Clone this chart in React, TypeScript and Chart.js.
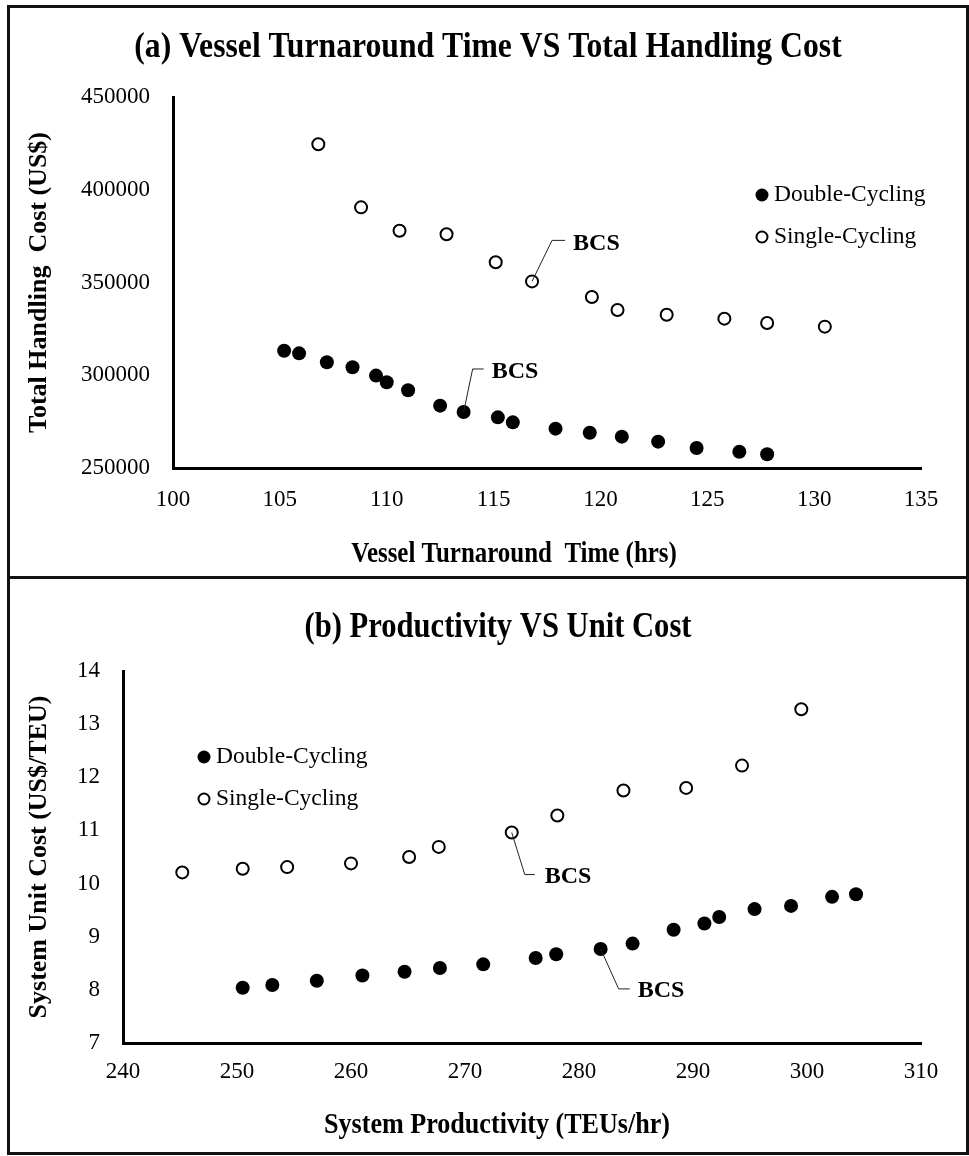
import React, { useEffect, useRef } from "react";
import { Chart, registerables } from "chart.js";

Chart.register(...registerables);

const SERIF = "'Liberation Serif', 'Times New Roman', Times, serif";

// ---------- Panel (a) data ----------
const aDoubleX = [105.2, 105.9, 107.2, 108.4, 109.5, 110.0, 111.0, 112.5, 113.6, 115.2, 115.9, 117.9, 119.5, 121.0, 122.7, 124.5, 126.5, 127.8];
const aDoubleY = [313200, 311800, 307000, 304300, 299800, 296200, 291900, 283600, 280200, 277300, 274600, 271200, 269000, 266900, 264200, 260800, 258800, 257400];
const aSingleX = [106.8, 108.8, 110.6, 112.8, 115.1, 116.8, 119.6, 120.8, 123.1, 125.8, 127.8, 130.5];
const aSingleY = [424500, 390500, 377900, 376000, 360900, 350600, 342200, 335200, 332600, 330500, 328200, 326200];
const aXTicks = [100, 105, 110, 115, 120, 125, 130, 135];
const aYTicks = [250000, 300000, 350000, 400000, 450000];
const aBcsDouble = 8;
const aBcsSingle = 5;

// ---------- Panel (b) data ----------
const bDoubleX = [250.5, 253.1, 257.0, 261.0, 264.7, 267.8, 271.6, 276.2, 278.0, 281.9, 284.7, 288.3, 291.0, 292.3, 295.4, 298.6, 302.2, 304.3];
const bDoubleY = [8.04, 8.09, 8.17, 8.27, 8.34, 8.41, 8.48, 8.6, 8.67, 8.77, 8.87, 9.13, 9.25, 9.37, 9.52, 9.58, 9.75, 9.8];
const bSingleX = [245.2, 250.5, 254.4, 260.0, 265.1, 267.7, 274.1, 278.1, 283.9, 289.4, 294.3, 299.5];
const bSingleY = [10.21, 10.28, 10.31, 10.38, 10.5, 10.69, 10.96, 11.28, 11.75, 11.8, 12.22, 13.28];
const bXTicks = [240, 250, 260, 270, 280, 290, 300, 310];
const bYTicks = [7, 8, 9, 10, 11, 12, 13, 14];
const bBcsDouble = 9;
const bBcsSingle = 6;

const seriesNames = ["Double-Cycling", "Single-Cycling"];

const toPts = (xs: number[], ys: number[]) => xs.map((x, i) => ({ x, y: ys[i] }));

type Txt = { text: string; x: number; y: number; size: number; bold?: boolean; sx?: number };
type Bcs = { ds: number; idx: number; ex: number; ey: number; hx: number; tx: number; ty: number };
type Cfg = {
  texts: Txt[];
  legendX: number;
  legendY: number[];
  legendTextX: number;
  bcs: Bcs[];
};

function makeDecor(cfg: Cfg) {
  return {
    id: "decor",
    afterDraw(chart: any) {
      const ctx: CanvasRenderingContext2D = chart.ctx;
      ctx.save();
      ctx.fillStyle = "#000";
      ctx.textBaseline = "middle";
      ctx.textAlign = "center";
      for (const t of cfg.texts) {
        ctx.save();
        ctx.font = `${t.bold ? "bold " : ""}${t.size}px ${SERIF}`;
        ctx.translate(t.x, t.y);
        ctx.scale(t.sx ?? 1, 1);
        ctx.fillText(t.text, 0, 0);
        ctx.restore();
      }
      // legend
      cfg.legendY.forEach((ly, i) => {
        const ds = chart.data.datasets[i];
        ctx.beginPath();
        if (i === 0) {
          ctx.arc(cfg.legendX, ly, 6.5, 0, Math.PI * 2);
          ctx.fillStyle = "#000";
          ctx.fill();
        } else {
          ctx.arc(cfg.legendX, ly, 5.5, 0, Math.PI * 2);
          ctx.fillStyle = "#fff";
          ctx.fill();
          ctx.lineWidth = 2;
          ctx.strokeStyle = "#000";
          ctx.stroke();
        }
        ctx.fillStyle = "#000";
        ctx.textAlign = "left";
        ctx.font = `23.5px ${SERIF}`;
        ctx.fillText(ds.label, cfg.legendTextX, ly);
      });
      // BCS annotations
      for (const b of cfg.bcs) {
        const pt = chart.getDatasetMeta(b.ds).data[b.idx];
        const x0 = pt.x;
        const y0 = pt.y;
        ctx.beginPath();
        ctx.moveTo(x0, y0);
        ctx.lineTo(x0 + b.ex, y0 + b.ey);
        ctx.lineTo(x0 + b.hx, y0 + b.ey);
        ctx.lineWidth = 1;
        ctx.strokeStyle = "#222";
        ctx.stroke();
        ctx.fillStyle = "#000";
        ctx.textAlign = "left";
        ctx.font = `bold 24px ${SERIF}`;
        ctx.fillText("BCS", x0 + b.tx, y0 + b.ty);
      }
      ctx.restore();
    },
  };
}

function buildConfig(opts: {
  dX: number[]; dY: number[]; sX: number[]; sY: number[];
  xTicks: number[]; yTicks: number[]; yTitle: string;
  yAxisWidth: number; xAxisHeight: number; xPad: number; padTop: number;
  decor: Cfg;
}) {
  const { dX, dY, sX, sY, xTicks, yTicks } = opts;
  return {
    type: "scatter" as const,
    data: {
      datasets: [
        {
          label: seriesNames[0],
          data: toPts(dX, dY),
          pointRadius: 7,
          pointHoverRadius: 7,
          pointBackgroundColor: "#000",
          pointBorderColor: "#000",
          pointBorderWidth: 0,
        },
        {
          label: seriesNames[1],
          data: toPts(sX, sY),
          pointRadius: 6,
          pointHoverRadius: 6,
          pointBackgroundColor: "#fff",
          pointBorderColor: "#000",
          pointBorderWidth: 2,
        },
      ],
    },
    options: {
      responsive: false,
      animation: false as const,
      layout: { padding: { top: opts.padTop, right: 45, left: 0, bottom: 0 } },
      plugins: {
        legend: { display: false },
        title: { display: false },
        tooltip: { enabled: false },
      },
      scales: {
        x: {
          type: "linear" as const,
          min: xTicks[0],
          max: xTicks[xTicks.length - 1],
          afterBuildTicks: (s: any) => {
            s.ticks = xTicks.map((v) => ({ value: v }));
          },
          afterFit: (s: any) => {
            s.height = opts.xAxisHeight;
          },
          grid: { display: false },
          border: { display: true, width: 3, color: "#000" },
          ticks: {
            padding: opts.xPad,
            color: "#000",
            autoSkip: false,
            maxRotation: 0,
            font: { family: SERIF, size: 23 },
            callback: (v: any) => String(v),
          },
        },
        y: {
          type: "linear" as const,
          min: yTicks[0],
          max: yTicks[yTicks.length - 1],
          afterBuildTicks: (s: any) => {
            s.ticks = yTicks.map((v) => ({ value: v }));
          },
          afterFit: (s: any) => {
            s.width = opts.yAxisWidth;
          },
          grid: { display: false },
          border: { display: true, width: 3, color: "#000" },
          ticks: {
            padding: 15,
            color: "#000",
            autoSkip: false,
            font: { family: SERIF, size: 23 },
            callback: (v: any) => String(v),
          },
          title: {
            display: true,
            text: opts.yTitle,
            color: "#000",
            font: { family: SERIF, size: 26, weight: "bold" as const },
            padding: { top: 14, bottom: 0 },
          },
        },
      },
    },
    plugins: [makeDecor(opts.decor)],
  };
}

function Panel(props: { width: number; height: number; config: any }) {
  const ref = useRef<HTMLCanvasElement | null>(null);
  useEffect(() => {
    if (!ref.current) return;
    const chart = new Chart(ref.current, props.config);
    return () => chart.destroy();
  }, []);
  return (
    <canvas
      ref={ref}
      width={props.width}
      height={props.height}
      style={{ display: "block", width: props.width, height: props.height }}
    />
  );
}

export default function App() {
  const cfgA = buildConfig({
    dX: aDoubleX, dY: aDoubleY, sX: aSingleX, sY: aSingleY,
    xTicks: aXTicks, yTicks: aYTicks,
    yTitle: "Total Handling  Cost (US$)",
    yAxisWidth: 163, xAxisHeight: 108, xPad: 10, padTop: 89,
    decor: {
      texts: [
        { text: "(a) Vessel Turnaround Time VS Total Handling Cost", x: 478, y: 40, size: 36, bold: true, sx: 0.88 },
        { text: "Vessel Turnaround  Time (hrs)", x: 504, y: 547, size: 29, bold: true, sx: 0.86 },
      ],
      legendX: 752,
      legendY: [187, 229],
      legendTextX: 764,
      bcs: [
        { ds: 0, idx: aBcsDouble, ex: 9, ey: -43, hx: 20, tx: 28, ty: -40 },
        { ds: 1, idx: aBcsSingle, ex: 20, ey: -41, hx: 33, tx: 41, ty: -38 },
      ],
    },
  });
  const cfgB = buildConfig({
    dX: bDoubleX, dY: bDoubleY, sX: bSingleX, sY: bSingleY,
    xTicks: bXTicks, yTicks: bYTicks,
    yTitle: "System Unit Cost (US$/TEU)",
    yAxisWidth: 113, xAxisHeight: 109, xPad: 7, padTop: 92,
    decor: {
      texts: [
        { text: "(b) Productivity VS Unit Cost", x: 488, y: 49, size: 36, bold: true, sx: 0.85 },
        { text: "System Productivity (TEUs/hr)", x: 487, y: 546, size: 30, bold: true, sx: 0.87 },
      ],
      legendX: 194,
      legendY: [178, 220],
      legendTextX: 206,
      bcs: [
        { ds: 0, idx: bBcsDouble, ex: 18, ey: 40, hx: 29, tx: 37, ty: 42 },
        { ds: 1, idx: bBcsSingle, ex: 13, ey: 42, hx: 23, tx: 33, ty: 44 },
      ],
    },
  });
  return (
    <div
      style={{
        position: "absolute",
        left: 7,
        top: 5,
        width: 962,
        height: 1150,
        boxSizing: "border-box",
        border: "3px solid #111",
        background: "#fff",
      }}
    >
      <Panel width={956} height={568} config={cfgA} />
      <div style={{ height: 3, background: "#111" }} />
      <Panel width={956} height={573} config={cfgB} />
    </div>
  );
}
